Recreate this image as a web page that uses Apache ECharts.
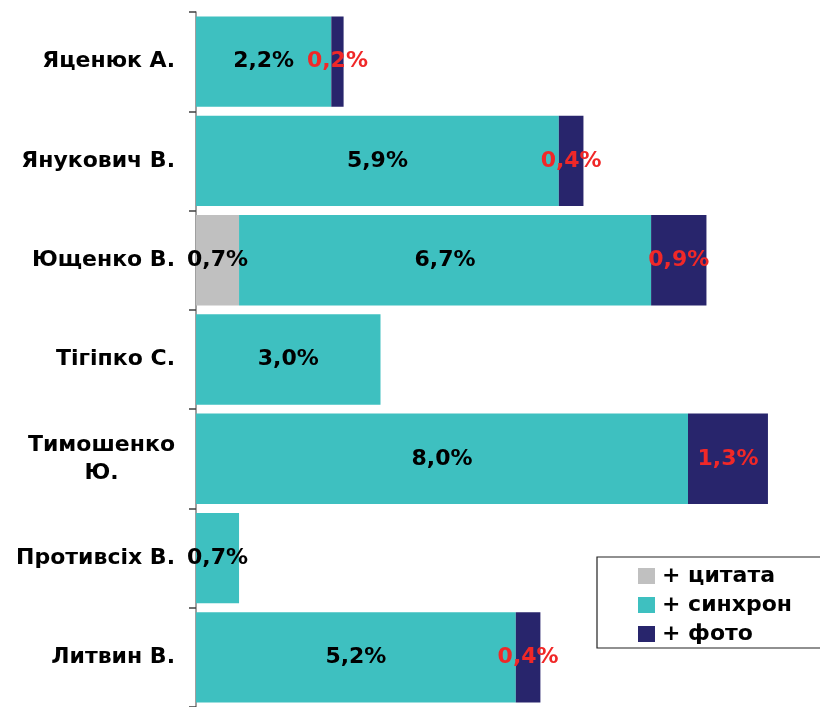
<!DOCTYPE html>
<html>
<head>
<meta charset="utf-8">
<script src="https://cdn.jsdelivr.net/npm/echarts@6/dist/echarts.min.js"></script>
<style>
  html, body { margin: 0; padding: 0; background: #ffffff; }
  #chart { width: 820px; height: 707px; }
</style>
</head>
<body>
<div id="chart"></div>
<script>
// Candidates, top to bottom
const candidates = ['Яценюк А.', 'Янукович В.', 'Ющенко В.', 'Тігіпко С.', 'Тимошенко Ю.', 'Противсіх В.', 'Литвин В.'];

// Shares, % (null = no segment)
const quoteValues = [null, null, 0.7, null, null, null, null];
const syncValues  = [2.2, 5.9, 6.7, 3.0, 8.0, 0.7, 5.2];
const photoValues = [0.2, 0.4, 0.9, null, 1.3, null, 0.4];

const seriesNames = ['+ цитата', '+ синхрон', '+ фото'];

const FONT = '"DejaVu Sans", Verdana, sans-serif';

function pct(p) {
  return p.value == null ? '' : p.value.toFixed(1).replace('.', ',') + '%';
}

function barSeries(name, data, color, labelColor) {
  return {
    name: name,
    type: 'bar',
    stack: 'total',
    data: data,
    barCategoryGap: '9%',
    itemStyle: { color: color },
    label: {
      show: true,
      position: 'inside',
      formatter: pct,
      color: labelColor,
      fontFamily: FONT,
      fontWeight: 'bold',
      fontSize: 22
    },
    emphasis: { disabled: true }
  };
}

const chart = echarts.init(document.getElementById('chart'), null, { renderer: 'canvas' });

chart.setOption({
  animation: false,
  backgroundColor: '#ffffff',
  grid: { left: 196, top: 12, width: 615, height: 699 },
  xAxis: {
    type: 'value',
    min: 0,
    max: 10,
    show: false
  },
  yAxis: {
    type: 'category',
    inverse: true,
    data: candidates,
    axisLine: { show: true, lineStyle: { color: '#7f7f7f', width: 1.5 } },
    axisTick: { show: true, length: 7, inside: false, lineStyle: { color: '#404040', width: 1.5 } },
    axisLabel: {
      margin: 21,
      fontFamily: FONT,
      fontWeight: 'bold',
      fontSize: 22,
      color: '#000000',
      formatter: function (v) {
        if (v === 'Тимошенко Ю.') return '{c|Тимошенко}\n{c|Ю.}';
        return v;
      },
      rich: {
        c: {
          align: 'center',
          fontFamily: FONT,
          fontWeight: 'bold',
          fontSize: 22,
          lineHeight: 28,
          color: '#000000'
        }
      }
    },
    splitLine: { show: false }
  },
  legend: {
    orient: 'vertical',
    left: 597,
    top: 557,
    data: seriesNames,
    icon: 'rect',
    itemWidth: 17,
    itemHeight: 16,
    itemGap: 5,
    padding: [7, 60, 2, 41],
    borderColor: '#222222',
    borderWidth: 1.2,
    borderRadius: 0,
    selectedMode: false,
    textStyle: {
      fontFamily: FONT,
      fontWeight: 'bold',
      fontSize: 22,
      lineHeight: 24,
      color: '#000000',
      padding: [0, 0, 0, 2]
    }
  },
  series: [
    barSeries(seriesNames[0], quoteValues, '#c0c0c0', '#000000'),
    barSeries(seriesNames[1], syncValues, '#3ec0c0', '#000000'),
    barSeries(seriesNames[2], photoValues, '#28256c', '#f02828')
  ]
});
</script>
</body>
</html>
